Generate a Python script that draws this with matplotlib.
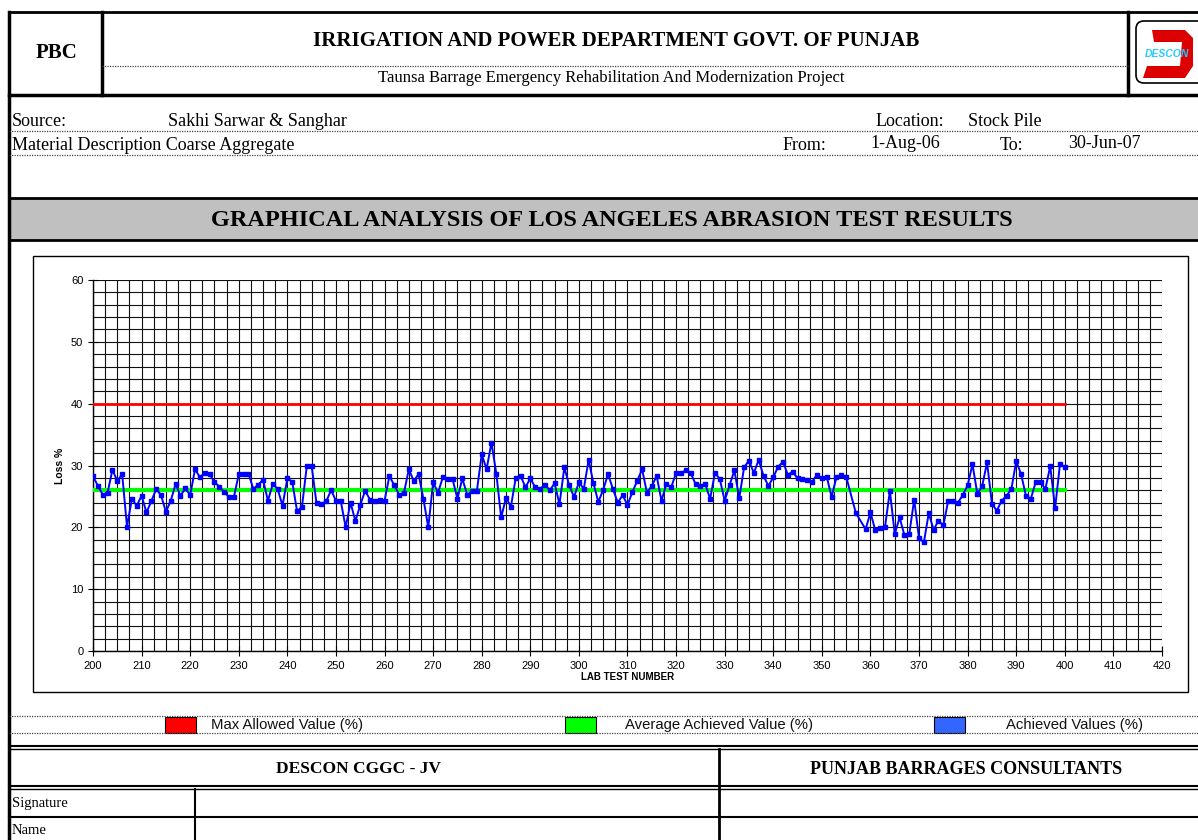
import numpy as np
import matplotlib
matplotlib.use("Agg")
import matplotlib.pyplot as plt
from matplotlib.patches import Rectangle, FancyBboxPatch, Polygon
from matplotlib.ticker import MultipleLocator

# lab test numbers (356 and 358 have no result)
test_no = [n for n in range(200, 401) if n not in (356, 358)]
loss_pct = [
    28.3, 26.7, 25.3, 25.6, 29.3, 27.5, 28.6, 20.1, 24.6, 23.5,
    25.1, 22.4, 24.2, 26.2, 25.2, 22.5, 24.3, 27.0, 25.1, 26.3,
    25.2, 29.4, 28.1, 28.8, 28.6, 27.3, 26.6, 25.7, 24.9, 24.9,
    28.6, 28.7, 28.7, 26.2, 26.9, 27.7, 24.3, 27.0, 26.2, 23.5,
    27.9, 27.4, 22.6, 23.3, 29.9, 29.9, 23.9, 23.8, 24.2, 26.0,
    24.3, 24.2, 20.0, 24.0, 21.0, 23.6, 25.9, 24.5, 24.3, 24.4,
    24.3, 28.3, 26.8, 25.3, 25.6, 29.4, 27.5, 28.6, 24.6, 20.0,
    27.3, 25.6, 28.1, 27.8, 27.8, 24.6, 27.9, 25.3, 25.8, 25.9,
    31.8, 29.4, 33.7, 28.7, 21.6, 24.8, 23.3, 28.0, 28.3, 26.5,
    27.9, 26.5, 26.2, 26.9, 26.0, 27.1, 23.7, 29.7, 26.8, 24.9,
    27.3, 26.2, 30.9, 27.1, 24.1, 26.1, 28.6, 26.2, 24.0, 25.2,
    23.6, 25.7, 27.5, 29.4, 25.6, 26.7, 28.3, 24.3, 27.0, 26.5,
    28.8, 28.8, 29.2, 28.8, 27.0, 26.7, 27.0, 24.6, 28.8, 27.8,
    24.3, 26.8, 29.2, 24.7, 29.7, 30.8, 28.8, 30.9, 28.3, 26.7,
    28.1, 29.8, 30.6, 28.5, 29.0, 27.9, 27.8, 27.7, 27.4, 28.5,
    27.9, 28.2, 24.9, 28.1, 28.4, 28.2,
    22.3, 19.7, 22.4, 19.5, 19.9, 20.1, 25.9, 18.9,
    21.6, 18.7, 19.0, 24.5, 18.2, 17.6, 22.3, 19.6, 21.1, 20.3,
    24.3, 24.3, 24.0, 25.2, 26.8, 30.2, 25.4, 26.7, 30.5, 23.8,
    22.7, 24.3, 25.1, 26.2, 30.7, 28.6, 25.1, 24.6, 27.3, 27.3,
    26.2, 29.9, 23.1, 30.2, 29.8,
]
limit_x = [200, 400]
max_allowed = [40, 40]
avg_achieved = [26.0, 26.0]

W, H = 1198, 840
fig = plt.figure(figsize=(W / 100, H / 100), dpi=100)
bg = fig.add_axes([0, 0, 1, 1])
bg.set_xlim(0, W)
bg.set_ylim(H, 0)
bg.axis("off")

serif = "Liberation Serif"
sans = "Liberation Sans"
dot = dict(color="#444444", lw=0.9, ls=(0, (1, 1)))

# header frame
bg.plot([9, W], [12, 12], color="k", lw=2)
bg.plot([9, 9], [12, H], color="k", lw=2.5)
bg.plot([9, W], [95, 95], color="k", lw=2.5)
bg.plot([102, 102], [12, 95], color="k", lw=2.5)
bg.plot([1128, 1128], [12, 95], color="k", lw=2.5)
bg.plot([102, 1128], [66, 66], **dot)
bg.text(57, 53, "PBC", family=serif, weight="bold", fontsize=15, ha="center", va="center")
bg.text(616, 41, "IRRIGATION AND POWER DEPARTMENT GOVT. OF PUNJAB", family=serif,
        weight="bold", fontsize=15, ha="center", va="center")
bg.text(611, 78, "Taunsa Barrage Emergency Rehabilitation And Modernization Project",
        family=serif, fontsize=12, ha="center", va="center")

# logo
bg.add_patch(FancyBboxPatch((1136, 21), 70, 62, boxstyle="round,pad=0,rounding_size=8",
                            fc="white", ec="k", lw=1.2))
bg.add_patch(Polygon([[1152, 30], [1185, 30], [1193, 38], [1193, 66], [1185, 78],
                      [1143, 78], [1147, 66], [1180, 66], [1182, 42], [1154, 42]],
                     closed=True, fc="#DD0000", ec="none"))
bg.text(1167, 54, "DESCON", family=sans, weight="bold", style="italic", fontsize=7.5,
        color="#22CCFF", ha="center", va="center")

# info rows
fs = 13
bg.text(12, 122, "Source:", family=serif, fontsize=fs, va="center")
bg.text(168, 122, "Sakhi Sarwar & Sanghar", family=serif, fontsize=fs, va="center")
bg.text(876, 122, "Location:", family=serif, fontsize=fs, va="center")
bg.text(968, 122, "Stock Pile", family=serif, fontsize=fs, va="center")
bg.plot([9, W], [131, 131], **dot)
bg.text(12, 145, "Material Description Coarse Aggregate", family=serif, fontsize=fs, va="center")
bg.text(783, 145, "From:", family=serif, fontsize=fs, va="center")
bg.text(870, 144, "1-Aug-06", family=serif, fontsize=fs, va="center")
bg.text(1000, 145, "To:", family=serif, fontsize=fs, va="center")
bg.text(1068, 144, "30-Jun-07", family=serif, fontsize=fs, va="center")
bg.plot([9, W], [155, 155], **dot)

# grey title band
bg.add_patch(Rectangle((9, 198), W - 9, 42, fc="#C0C0C0", ec="none"))
bg.plot([9, W], [198, 198], color="k", lw=2)
bg.plot([9, W], [240, 240], color="k", lw=2)
bg.text(612, 220, "GRAPHICAL ANALYSIS OF LOS ANGELES ABRASION TEST RESULTS", family=serif,
        weight="bold", fontsize=17.5, ha="center", va="center")

# chart area frame
bg.add_patch(Rectangle((33, 256), 1155, 436, fc="white", ec="k", lw=1))

# chart
x0, x1, y0, y1 = 93, 1162, 280, 651
ax = fig.add_axes([x0 / W, (H - y1) / H, (x1 - x0) / W, (y1 - y0) / H])
ax.set_xlim(200, 420)
ax.set_ylim(0, 60)
ax.xaxis.set_major_locator(MultipleLocator(10))
ax.xaxis.set_minor_locator(MultipleLocator(2.5))
ax.yaxis.set_major_locator(MultipleLocator(10))
ax.yaxis.set_minor_locator(MultipleLocator(2))
ax.grid(which="both", color="#111111", lw=0.8)
ax.set_axisbelow(True)
ax.tick_params(which="major", direction="inout", length=7, width=0.8, labelsize=8)
ax.tick_params(which="minor", direction="in", length=3, width=0.6)
ax.tick_params(axis="y", which="minor", length=0)
for lab in ax.get_xticklabels() + ax.get_yticklabels():
    lab.set_family(sans)
for s in ["right", "top"]:
    ax.spines[s].set_visible(False)
ax.spines["left"].set_linewidth(1)
ax.spines["bottom"].set_linewidth(1)

ax.plot(limit_x, max_allowed, color="#FF0000", lw=2, zorder=3)
ax.plot(limit_x, avg_achieved, color="#00FF00", lw=3, zorder=3)
ax.plot(test_no, loss_pct, color="#0000FF", lw=1.4, marker="s", markersize=3, zorder=4)

ax.set_xlabel("LAB TEST NUMBER", family=sans, weight="bold", fontsize=7, labelpad=1)
ax.set_ylabel("Loss %", family=sans, weight="bold", fontsize=7.5, labelpad=4)

# legend row
bg.plot([9, W], [716, 716], **dot)
bg.plot([9, W], [733, 733], **dot)
for px, c, lbl, tx in [(165, "#FF0000", "Max Allowed Value (%)", 211),
                       (565, "#00FF00", "Average Achieved Value (%)", 625),
                       (934, "#3366FF", "Achieved Values (%)", 1006)]:
    bg.add_patch(Rectangle((px, 717), 31, 16, fc=c, ec="k", lw=0.8))
    bg.text(tx, 725, lbl, family=sans, fontsize=10.7, va="center", color="#111111")

# signature table
bg.plot([9, W], [746, 746], color="k", lw=1.5)
bg.plot([9, W], [749, 749], color="k", lw=1)
bg.plot([9, W], [786, 786], color="k", lw=1.5)
bg.plot([9, W], [789, 789], color="k", lw=1)
bg.plot([719, 719], [749, H], color="k", lw=2)
bg.plot([195, 195], [789, H], color="k", lw=1.5)
bg.plot([9, W], [817, 817], color="k", lw=1.5)
bg.text(358, 769, "DESCON CGGC - JV", family=serif, weight="bold", fontsize=12.5,
        ha="center", va="center")
bg.text(966, 769, "PUNJAB BARRAGES CONSULTANTS", family=serif, weight="bold", fontsize=13,
        ha="center", va="center")
bg.text(12, 803, "Signature", family=serif, fontsize=10.5, va="center")
bg.text(12, 830, "Name", family=serif, fontsize=10.5, va="center")

fig.savefig("out.png", dpi=100)
